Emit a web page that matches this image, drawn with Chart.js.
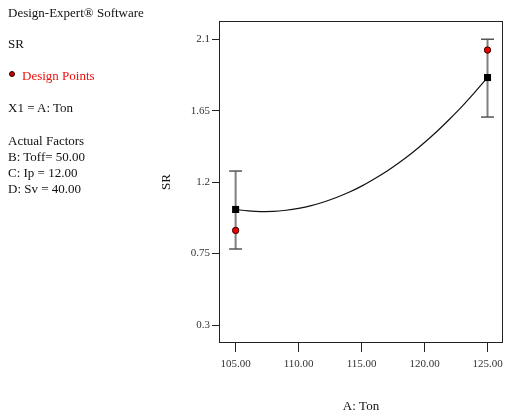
<!DOCTYPE html>
<html>
<head>
<meta charset="utf-8">
<script src="https://cdn.jsdelivr.net/npm/chart.js@4.4.1/dist/chart.umd.min.js"></script>
<style>
  html, body { margin: 0; padding: 0; background: #fff; }
  #wrap { position: relative; width: 511px; height: 418px; }
  #sr { position: absolute; left: 0; top: 0; }
  .note {
    position: absolute; left: 8px; margin: 0;
    font-family: "Liberation Serif", "Times New Roman", serif;
    font-size: 13px; line-height: 16px; color: #111; white-space: nowrap;
  }
  .red { color: #f01010; }
  .dot {
    display: inline-block; width: 4px; height: 4px; border-radius: 50%;
    background: #d00000; border: 1px solid #200; margin: 0 7px 0 1px;
    vertical-align: 3px;
  }
</style>
</head>
<body>
<div id="wrap">
  <canvas id="sr" width="511" height="418"></canvas>
  <p class="note" style="top:5px">Design-Expert® Software</p>
  <p class="note" style="top:36px">SR</p>
  <p class="note red" style="top:68px"><span class="dot"></span>Design Points</p>
  <p class="note" style="top:100px">X1 = A: Ton</p>
  <p class="note" style="top:133px">Actual Factors<br>B: Toff= 50.00<br>C: Ip = 12.00<br>D: Sv = 40.00</p>
</div>
<script>
  // factor levels and model prediction at the design points
  const tonLevels = [105, 125];
  const predictedSR = [1.028, 1.859];
  const lowerSR = [0.779, 1.610];
  const upperSR = [1.270, 2.100];
  const observedSR = [0.896, 2.032];

  // fitted response along A: Ton
  const curveTon = [105, 106, 107, 108, 109, 110, 111, 112, 113, 114, 115,
                    116, 117, 118, 119, 120, 121, 122, 123, 124, 125];
  const curveSR = [1.028, 1.019, 1.015, 1.016, 1.023, 1.035, 1.052, 1.075, 1.103, 1.136, 1.175,
                   1.220, 1.269, 1.324, 1.384, 1.450, 1.521, 1.598, 1.679, 1.767, 1.859];

  const tonTicks = [105, 110, 115, 120, 125];
  const srTicks = [0.3, 0.75, 1.2, 1.65, 2.1];

  const serif = '"Liberation Serif", "Times New Roman", serif';

  const errorBars = tonLevels.map(function (t, i) {
    return {
      type: 'line',
      data: [{x: t, y: lowerSR[i]}, {x: t, y: upperSR[i]}],
      borderColor: '#7f7f7f',
      borderWidth: 2,
      pointStyle: 'line',
      pointRadius: 6.5,
      pointBorderColor: '#555',
      pointBorderWidth: 1.5,
      order: 3
    };
  });

  // box around the plot area
  const frame = {
    id: 'frame',
    beforeDatasetsDraw(chart) {
      const a = chart.chartArea;
      const ctx = chart.ctx;
      ctx.save();
      ctx.strokeStyle = '#222';
      ctx.lineWidth = 1;
      ctx.strokeRect(a.left + 0.5, a.top + 0.5, a.right - a.left - 1, a.bottom - a.top - 1);
      ctx.restore();
    }
  };

  new Chart(document.getElementById('sr'), {
    type: 'line',
    data: {
      datasets: errorBars.concat([
        {
          data: curveTon.map((t, i) => ({x: t, y: curveSR[i]})),
          borderColor: '#111',
          borderWidth: 1.2,
          pointRadius: 0,
          cubicInterpolationMode: 'monotone',
          order: 2
        },
        {
          data: tonLevels.map((t, i) => ({x: t, y: predictedSR[i]})),
          showLine: false,
          pointStyle: 'rect',
          pointRadius: 5,
          backgroundColor: '#000',
          borderColor: '#000',
          pointBorderWidth: 0,
          order: 1
        },
        {
          data: tonLevels.map((t, i) => ({x: t, y: observedSR[i]})),
          showLine: false,
          pointRadius: 3.2,
          backgroundColor: '#ee0000',
          borderColor: '#3a0000',
          pointBorderWidth: 1,
          order: 0
        }
      ])
    },
    options: {
      responsive: false,
      animation: false,
      clip: false,
      layout: {padding: {left: 155, top: 21, right: 1, bottom: 0}},
      plugins: {legend: {display: false}, tooltip: {enabled: false}},
      scales: {
        x: {
          type: 'linear',
          min: 103.68,
          max: 126.23,
          afterBuildTicks: s => { s.ticks = tonTicks.map(v => ({value: v})); },
          afterFit: s => { s.height = 75; },
          border: {display: false},
          grid: {drawOnChartArea: false, drawTicks: true, tickLength: 9, color: '#222'},
          ticks: {
            callback: v => v.toFixed(2),
            font: {family: serif, size: 11},
            color: '#333',
            padding: 6,
            maxRotation: 0
          },
          title: {
            display: true,
            text: 'A: Ton',
            font: {family: serif, size: 13},
            color: '#111',
            padding: {bottom: 4}
          }
        },
        y: {
          type: 'linear',
          min: 0.187,
          max: 2.215,
          afterBuildTicks: s => { s.ticks = srTicks.map(v => ({value: v})); },
          afterFit: s => { s.width = 64; },
          border: {display: false},
          grid: {drawOnChartArea: false, drawTicks: true, tickLength: 7, color: '#222'},
          ticks: {
            callback: v => String(v),
            font: {family: serif, size: 11},
            color: '#333',
            padding: 2
          },
          title: {
            display: true,
            text: 'SR',
            font: {family: serif, size: 13},
            color: '#111',
            padding: {top: 4}
          }
        }
      }
    },
    plugins: [frame]
  });
</script>
</body>
</html>
